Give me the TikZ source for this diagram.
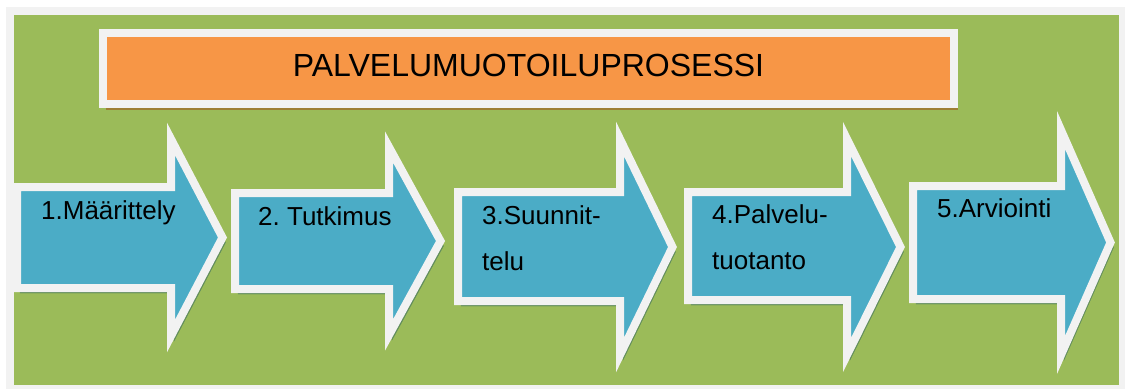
\documentclass[tikz,border=0pt]{standalone}
\usepackage{fontspec}
\setmainfont{Liberation Sans}
\frenchspacing

\definecolor{bggreen}{HTML}{9BBB59}
\definecolor{framegray}{HTML}{F2F2F2}
\definecolor{stepblue}{HTML}{4BACC6}
\definecolor{titleorange}{HTML}{F79646}
\definecolor{greenshadow}{HTML}{608C5C}
\definecolor{brownshadow}{HTML}{9E7E34}

\begin{document}
\begin{tikzpicture}[x=1pt,y=-1pt,
    titlebox/.style={fill=titleorange,draw=framegray,line width=8pt,
      preaction={fill=brownshadow,draw=brownshadow,
        transform canvas={shift={(3pt,-5pt)}}}},
    steparrow/.style={fill=stepblue,draw=framegray,line width=8pt,
      miter limit=10,
      preaction={fill=greenshadow,draw=greenshadow,
        transform canvas={shift={(3pt,-5pt)}}}},
    steplabel/.style={anchor=base west,inner sep=0pt,align=left,
      font=\fontsize{26}{46}\selectfont}]
    \useasboundingbox (0,0) rectangle (1127,389);
    \fill[white] (0,0) rectangle (1127,389);
    \fill[framegray] (6,7) rectangle (1125,389);
    \fill[bggreen] (14,15) rectangle (1119,385);

    % title
    \draw[titlebox] (103,32.5) rectangle (954,104);
    \node[font=\fontsize{32}{38}\selectfont] (title) at (528.5,65)
        {PALVELUMUOTOILUPROSESSI};

    % the five steps
    \draw[steparrow] (17,187) -- (171,187) -- (171,139) -- (222.5,237.5)
        -- (171,336) -- (171,288) -- (17,288) -- cycle;
    \draw[steparrow] (235,193) -- (389,193) -- (389,147) -- (440.5,241)
        -- (389,335) -- (389,289) -- (235,289) -- cycle;
    \draw[steparrow] (458,192) -- (620,192) -- (620,139) -- (672.5,247)
        -- (620,355) -- (620,301) -- (458,301) -- cycle;
    \draw[steparrow] (688,192) -- (847,192) -- (847,139) -- (900.5,247)
        -- (847,355) -- (847,300) -- (688,300) -- cycle;
    \draw[steparrow] (913,186) -- (1061,186) -- (1061,130) -- (1110.5,242.5)
        -- (1061,355) -- (1061,299) -- (913,299) -- cycle;

    % base is the last line
    \node[steplabel] (step1) at (41,219) {1.Määrittely};
    \node[steplabel] (step2) at (258,225) {2. Tutkimus};
    \node[steplabel] (step3) at (482,270) {3.Suunnit-\\telu};
    \node[steplabel] (step4) at (712,269) {4.Palvelu-\\tuotanto};
    \node[steplabel] (step5) at (937,217) {5.Arviointi};
\end{tikzpicture}
\end{document}
